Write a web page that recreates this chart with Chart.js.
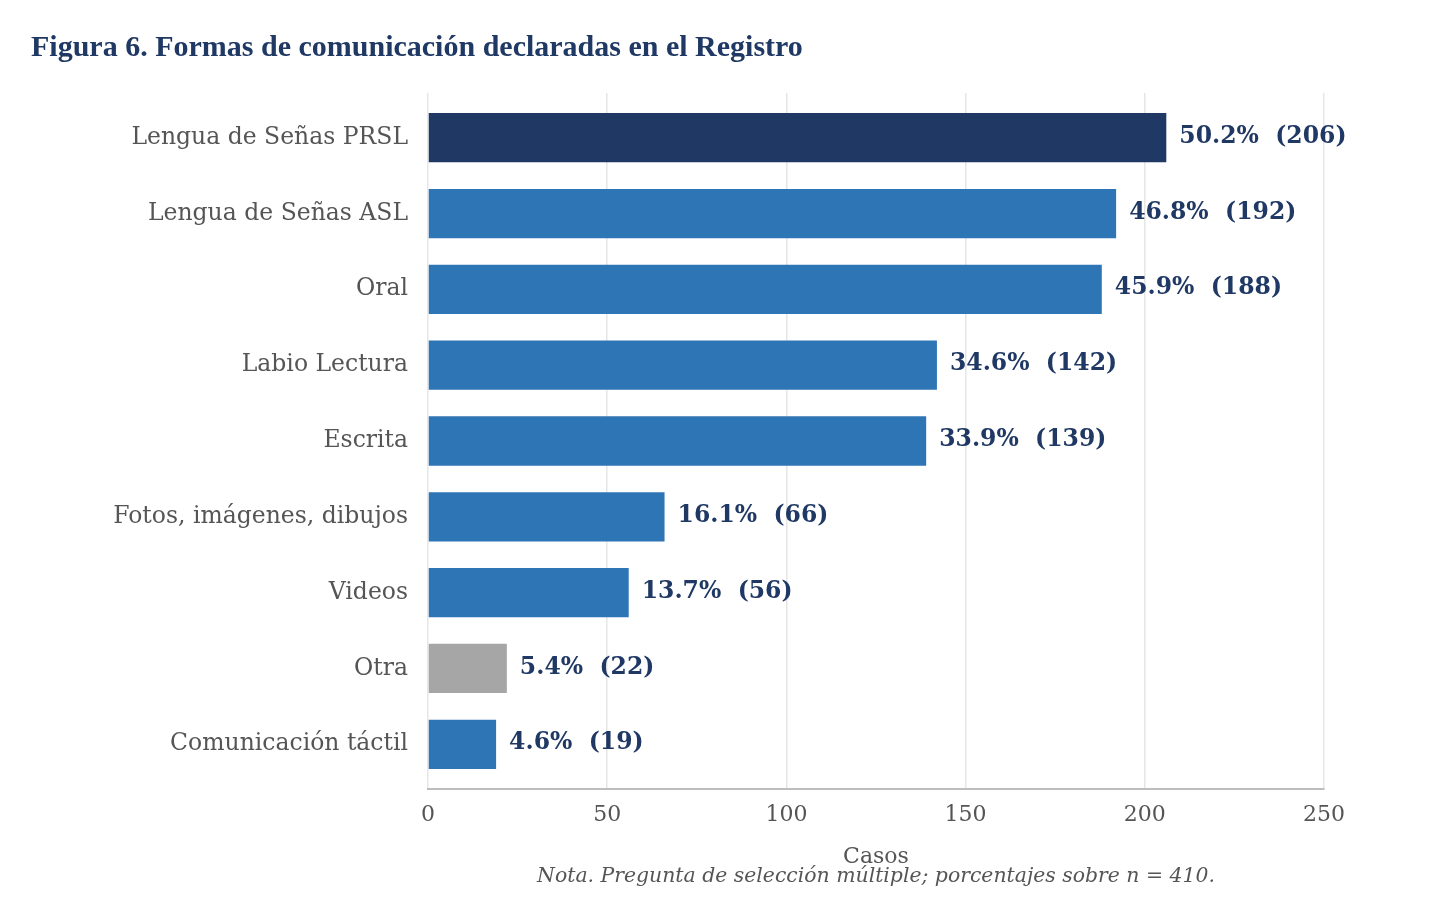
<!DOCTYPE html>
<html>
<head>
<meta charset="utf-8">
<script src="https://cdn.jsdelivr.net/npm/chart.js@4/dist/chart.umd.min.js"></script>
<style>
  body { margin: 0; background: #fff; }
</style>
</head>
<body>
<canvas id="chart" width="1453" height="919"></canvas>
<script>
const categories = [
    'Lengua de Señas PRSL',
    'Lengua de Señas ASL',
    'Oral',
    'Labio Lectura',
    'Escrita',
    'Fotos, imágenes, dibujos',
    'Videos',
    'Otra',
    'Comunicación táctil'
];
const counts = [206, 192, 188, 142, 139, 66, 56, 22, 19];
const percents = [50.2, 46.8, 45.9, 34.6, 33.9, 16.1, 13.7, 5.4, 4.6];
const barColors = ['#203864', '#2E75B6', '#2E75B6', '#2E75B6', '#2E75B6', '#2E75B6', '#2E75B6', '#A6A6A6', '#2E75B6'];
const xTicks = [0, 50, 100, 150, 200, 250];

const titleText = 'Figura 6. Formas de comunicación declaradas en el Registro';
const noteText = 'Nota. Pregunta de selección múltiple; porcentajes sobre n = 410.';

const serif = "'DejaVu Serif', serif";
const navy = '#1F3864';

// value labels to the right of each bar
const barLabels = {
    id: 'barLabels',
    afterDatasetsDraw(chart) {
        const ctx = chart.ctx;
        const meta = chart.getDatasetMeta(0);
        ctx.save();
        ctx.font = 'bold 23.5px ' + serif;
        ctx.fillStyle = navy;
        ctx.textAlign = 'left';
        ctx.textBaseline = 'middle';
        meta.data.forEach((bar, i) => {
            const text = percents[i].toFixed(1) + '%  (' + counts[i] + ')';
            ctx.fillText(text, bar.x + 13, bar.y - 1);
        });
        ctx.restore();
    }
};

// note under the axis title, centred on the plot area
const note = {
    id: 'note',
    afterDraw(chart) {
        const ctx = chart.ctx;
        const area = chart.chartArea;
        ctx.save();
        ctx.font = 'italic 20.4px ' + serif;
        ctx.fillStyle = '#555555';
        ctx.textAlign = 'center';
        ctx.textBaseline = 'middle';
        ctx.fillText(noteText, (area.left + area.right) / 2, 877);
        ctx.restore();
    }
};

new Chart(document.getElementById('chart'), {
    type: 'bar',
    data: {
        labels: categories,
        datasets: [{
            data: counts,
            backgroundColor: barColors,
            borderWidth: 0,
            barPercentage: 0.65,
            categoryPercentage: 1
        }]
    },
    options: {
        indexAxis: 'y',
        responsive: false,
        animation: false,
        layout: { padding: { top: 0, left: 31, right: 129, bottom: 0 } },
        plugins: {
            legend: { display: false },
            tooltip: { enabled: false },
            title: {
                display: true,
                text: titleText,
                align: 'start',
                color: navy,
                font: { family: "'Liberation Serif', serif", size: 30, weight: 'bold' },
                padding: { top: 30, bottom: 27 }
            }
        },
        scales: {
            x: {
                min: 0,
                max: 250,
                afterBuildTicks(scale) {
                    scale.ticks = xTicks.map(v => ({ value: v }));
                },
                afterFit(scale) { scale.height = 130; },
                grid: { color: '#e6e6e6', lineWidth: 1.5, drawTicks: false },
                border: { color: '#bdbdbd', width: 2 },
                ticks: {
                    color: '#555555',
                    padding: 13,
                    font: { family: serif, size: 22 }
                },
                title: {
                    display: true,
                    text: 'Casos',
                    color: '#555555',
                    font: { family: serif, size: 22 },
                    padding: { top: 0, bottom: 49 }
                }
            },
            y: {
                // leave a little room above the first and below the last band
                afterBuildTicks(scale) {
                    scale._startValue -= 0.09;
                    scale._valueRange += 0.18;
                },
                afterFit(scale) { scale.width = 397; },
                grid: { display: false, drawTicks: false },
                border: { display: false },
                ticks: {
                    color: '#555555',
                    padding: 20,
                    font: { family: serif, size: 23.5 }
                }
            }
        }
    },
    plugins: [barLabels, note]
});
</script>
</body>
</html>
